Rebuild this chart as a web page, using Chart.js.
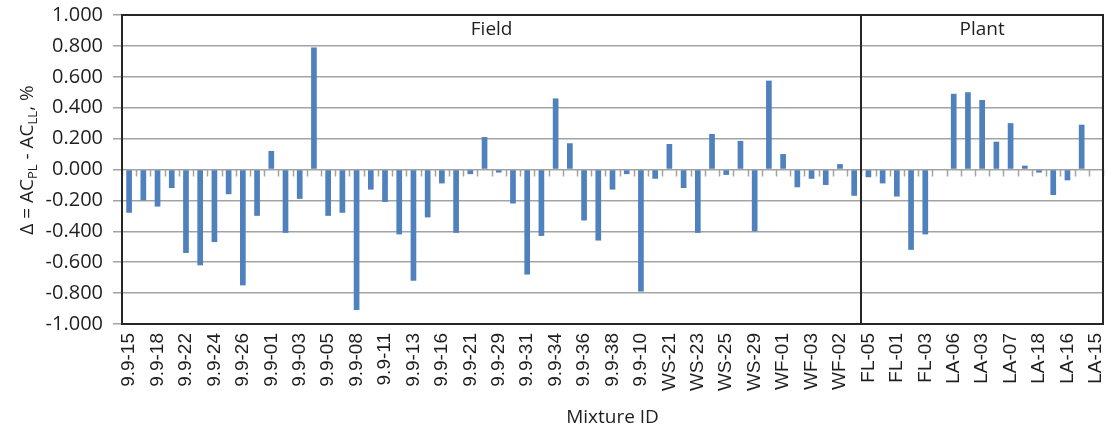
<!DOCTYPE html>
<html>
<head>
<meta charset="utf-8">
<script src="https://cdn.jsdelivr.net/npm/chart.js@4"></script>
<style>
  html, body { margin: 0; padding: 0; background: #fff; }
  #wrap { width: 1108px; height: 435px; }
</style>
</head>
<body>
<div id="wrap"><canvas id="deltaChart" width="1108" height="435"></canvas></div>
<script>
// mixture ids shown on the axis (every other category is labelled)
const shownIds = [
  "9.9-15", "9.9-18", "9.9-22", "9.9-24", "9.9-26", "9.9-01", "9.9-03", "9.9-05",
  "9.9-08", "9.9-11", "9.9-13", "9.9-16", "9.9-21", "9.9-29", "9.9-31", "9.9-34",
  "9.9-36", "9.9-38", "9.9-10", "WS-21", "WS-23", "WS-25", "WS-29", "WF-01",
  "WF-03", "WF-02", "FL-05", "FL-01", "FL-03", "LA-06", "LA-03", "LA-07",
  "LA-18", "LA-16", "LA-15"
];

// delta = AC_PL - AC_LL, % (one value per mixture, null = no bar)
const deltaValues = [
  -0.28, -0.20, -0.24, -0.12, -0.54, -0.62, -0.47, -0.16, -0.75, -0.30,
  0.12, -0.41, -0.19, 0.79, -0.30, -0.28, -0.91, -0.13, -0.21, -0.42,
  -0.72, -0.31, -0.09, -0.41, -0.03, 0.21, -0.02, -0.22, -0.68, -0.43,
  0.46, 0.17, -0.33, -0.46, -0.13, -0.03, -0.79, -0.06, 0.165, -0.12,
  -0.41, 0.23, -0.035, 0.185, -0.40, 0.575, 0.10, -0.115, -0.06, -0.10,
  0.035, -0.17, -0.05, -0.09, -0.175, -0.52, -0.42, null, 0.49, 0.50,
  0.45, 0.18, 0.30, 0.025, -0.02, -0.165, -0.07, 0.29, null
];

const groups = ["Field", "Plant"];
const groupSizes = [52, 17];

// labels: named ids on even positions, unlabelled ones in between
const labels = deltaValues.map((v, i) => (i % 2 === 0 ? shownIds[i / 2] : ""));

const textColor = "#1f1f1f";
const gridColor = "#a3a3a3";

// frame, divider, zero-line ticks, group names and y title
const decor = {
  id: "decor",
  beforeDatasetsDraw(chart) {
    const { ctx, scales: { x, y } } = chart;
    const w = x.getPixelForValue(1) - x.getPixelForValue(0);
    const y0 = y.getPixelForValue(0);
    ctx.save();
    ctx.strokeStyle = gridColor;
    ctx.lineWidth = 1.5;
    ctx.beginPath();
    for (let i = 0; i <= labels.length; i++) {
      const px = Math.round(x.getPixelForValue(0) - w / 2 + i * w) + 0.5;
      ctx.moveTo(px, y0);
      ctx.lineTo(px, y0 + 7);
    }
    ctx.stroke();
    ctx.restore();
  },
  afterDraw(chart) {
    const { ctx, chartArea: a, scales: { x } } = chart;
    const w = x.getPixelForValue(1) - x.getPixelForValue(0);
    const start = x.getPixelForValue(0) - w / 2;
    ctx.save();
    ctx.strokeStyle = "#262626";
    ctx.lineWidth = 2;
    ctx.strokeRect(a.left, a.top, a.right - a.left, a.bottom - a.top);

    // group divider + names
    ctx.font = "19px 'Open Sans'";
    ctx.fillStyle = textColor;
    ctx.textAlign = "center";
    ctx.textBaseline = "middle";
    let acc = 0;
    groups.forEach((g, gi) => {
      const x1 = start + acc * w;
      const x2 = start + (acc + groupSizes[gi]) * w;
      ctx.fillText(g, (x1 + x2) / 2, a.top + 15);
      acc += groupSizes[gi];
      if (gi < groups.length - 1) {
        ctx.beginPath();
        ctx.moveTo(Math.round(x2), a.top);
        ctx.lineTo(Math.round(x2), a.bottom);
        ctx.stroke();
      }
    });

    // y axis title with subscripts
    const parts = [
      ["\u0394 = AC", false], ["PL", true], [" - AC", false], ["LL", true], [", %", false]
    ];
    const big = "19px 'Open Sans'", small = "13px 'Open Sans'";
    let total = 0;
    parts.forEach(([t, sub]) => { ctx.font = sub ? small : big; total += ctx.measureText(t).width; });
    ctx.translate(27, 160);
    ctx.rotate(-Math.PI / 2);
    ctx.textAlign = "left";
    ctx.textBaseline = "alphabetic";
    let px = -total / 2;
    parts.forEach(([t, sub]) => {
      ctx.font = sub ? small : big;
      ctx.fillText(t, px, sub ? 10 : 6);
      px += ctx.measureText(t).width;
    });
    ctx.restore();
  }
};

const ctx = document.getElementById("deltaChart");

new Chart(ctx, {
  type: "bar",
  data: {
    labels: labels,
    datasets: [
      {
        label: "Delta",
        data: deltaValues,
        backgroundColor: "#4f81bd",
        borderWidth: 0,
        barPercentage: 0.4,
        categoryPercentage: 1.0
      }
    ]
  },
  options: {
    responsive: false,
    animation: false,
    layout: { padding: { top: 15, right: 5, left: 0, bottom: 0 } },
    plugins: {
      legend: { display: false },
      tooltip: { enabled: false }
    },
    scales: {
      x: {
        afterFit(scale) {
          scale.height = 111;
          scale.paddingLeft = 0;
          scale.paddingRight = 0;
        },
        grid: { display: false, drawTicks: false },
        border: { display: false },
        ticks: {
          autoSkip: false,
          minRotation: 90,
          maxRotation: 90,
          padding: 9,
          color: textColor,
          font: { family: "'Liberation Sans'", size: 19 }
        },
        title: {
          display: true,
          text: "Mixture ID",
          color: textColor,
          font: { family: "'Open Sans'", size: 19 },
          padding: { top: 0, bottom: 6 }
        }
      },
      y: {
        min: -1,
        max: 1,
        afterFit(scale) {
          scale.width = 122;
          scale.paddingTop = 0;
          scale.paddingBottom = 0;
        },
        grid: { color: gridColor, lineWidth: 1.5, tickLength: 9 },
        border: { display: false },
        ticks: {
          stepSize: 0.2,
          padding: 10,
          color: textColor,
          font: { family: "'Open Sans'", size: 20 },
          callback: (v) => v.toFixed(3)
        }
      }
    }
  },
  plugins: [decor]
});
</script>
</body>
</html>
